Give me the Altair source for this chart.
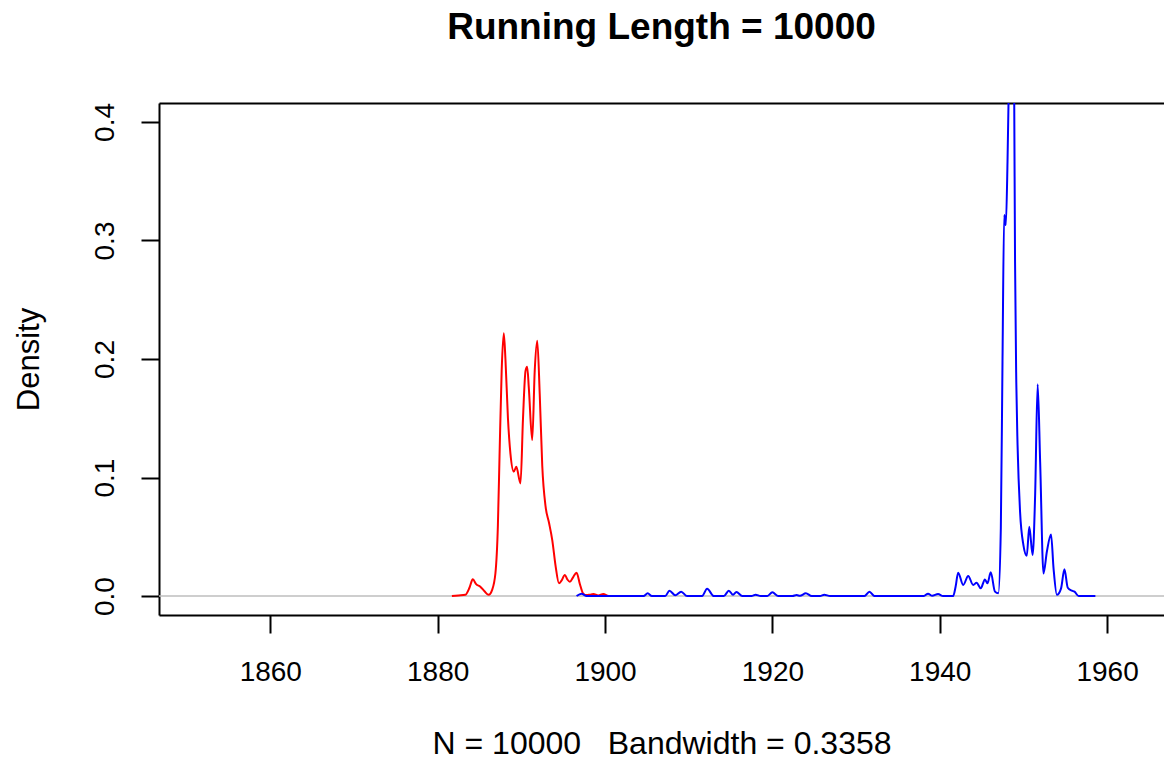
import altair as alt
import pandas as pd

# ---- data ----
red_x = [1881.7, 1882.5, 1883.3, 1883.8, 1884.2, 1884.6, 1885.1, 1885.6, 1886.1, 1886.5,
         1886.9, 1887.2, 1887.4, 1887.65, 1887.9, 1888.1, 1888.4, 1888.7, 1889.1, 1889.4,
         1889.9, 1890.2, 1890.5, 1890.7, 1890.9, 1891.3, 1891.6, 1891.9, 1892.2, 1892.5,
         1892.9, 1893.3, 1893.7, 1894.1, 1894.5, 1894.8, 1895.2, 1895.5, 1895.8, 1896.2,
         1896.6, 1897.0, 1897.4, 1897.8, 1898.2, 1898.6, 1899.2, 1899.8, 1900.3, 1900.6]
red_y = [0.0, 0.0005, 0.001, 0.007, 0.0141, 0.010, 0.0079, 0.004, 0.001, 0.005,
         0.019, 0.06, 0.120, 0.19, 0.2217, 0.20, 0.15, 0.120, 0.105, 0.109,
         0.095, 0.15, 0.19, 0.1935, 0.175, 0.1316, 0.19, 0.2154, 0.17, 0.11,
         0.0754, 0.062, 0.047, 0.025, 0.0107, 0.013, 0.0177, 0.014, 0.012, 0.016,
         0.0197, 0.010, 0.002, 0.0008, 0.0012, 0.0017, 0.0005, 0.0017, 0.0003, 0.0]

blue_x = [1896.6, 1897.2, 1897.8, 1904.6, 1905.1, 1905.6, 1907.2, 1907.7, 1908.4, 1909.1,
          1909.8, 1911.6, 1912.2, 1913.0, 1914.2, 1914.8, 1915.3, 1915.7, 1916.4, 1917.5,
          1918.0, 1918.6, 1919.4, 1920.0, 1920.7, 1922.4, 1922.9, 1923.3, 1924.0, 1924.7,
          1925.7, 1926.2, 1926.9, 1931.0, 1931.6, 1932.2, 1938.1, 1938.6, 1939.1, 1939.8,
          1940.4, 1941.6, 1941.9, 1942.2, 1942.8, 1943.4, 1944.0, 1944.4, 1944.9, 1945.4,
          1945.7, 1946.1, 1946.6, 1947.0, 1947.3, 1947.5, 1947.7, 1947.8, 1947.9, 1948.1,
          1948.3, 1948.45, 1948.6, 1948.75, 1948.9, 1949.0, 1949.15, 1949.3, 1949.6, 1950.0,
          1950.4, 1950.7, 1951.1, 1951.4, 1951.7, 1952.0, 1952.4, 1952.8, 1953.3, 1953.6,
          1954.0, 1954.5, 1954.9, 1955.3, 1955.8, 1956.1, 1956.6, 1958.6]
blue_y = [0.0, 0.002, 0.0, 0.0, 0.0023, 0.0, 0.0, 0.0045, 0.0006, 0.0037,
          0.0, 0.0, 0.0062, 0.0, 0.0, 0.0045, 0.001, 0.0034, 0.0, 0.0,
          0.0011, 0.0, 0.0, 0.0031, 0.0, 0.0, 0.0008, 0.0002, 0.0023, 0.0,
          0.0, 0.0011, 0.0, 0.0, 0.0037, 0.0, 0.0, 0.002, 0.0002, 0.0017,
          0.0, 0.0, 0.008, 0.0197, 0.0093, 0.0169, 0.0093, 0.0112, 0.0065, 0.014,
          0.0107, 0.020, 0.0037, 0.0023, 0.057, 0.198, 0.3215, 0.318, 0.313, 0.3665,
          0.45, 0.55, 0.60, 0.55, 0.42, 0.282, 0.18, 0.1274, 0.071, 0.043,
          0.034, 0.0585, 0.0346, 0.085, 0.1787, 0.113, 0.019, 0.0374, 0.052, 0.0234,
          0.001, 0.0065, 0.0225, 0.007, 0.0045, 0.0037, 0.0, 0.0]

x_ticks = [1860, 1880, 1900, 1920, 1940, 1960]
y_ticks = [0.0, 0.1, 0.2, 0.3, 0.4]
x_domain = [1846.7, 1966.8]
y_domain = [-0.016, 0.416]

title_text = "Running Length = 10000"
x_label = "N = 10000\u00a0\u00a0\u00a0Bandwidth = 0.3358"
y_label = "Density"

red = pd.DataFrame({"x": red_x, "y": red_y})
blue = pd.DataFrame({"x": blue_x, "y": blue_y})
zero = pd.DataFrame({"y": [0.0]})

FONT = "Liberation Sans"
W, H = 1005, 512

xs = alt.Scale(domain=x_domain, nice=False, zero=False)
ys = alt.Scale(domain=y_domain, nice=False, zero=False)

x_axis = alt.Axis(orient="bottom", values=x_ticks, format="d", title=x_label, grid=False,
                  domain=True, domainColor="black", domainWidth=2,
                  ticks=True, tickColor="black", tickWidth=2, tickSize=18,
                  labelFont=FONT, labelFontSize=28, labelColor="black",
                  labelPadding=25, labelBaseline="top", labelFlush=False,
                  labelOverlap=False,
                  titleFont=FONT, titleFontSize=32, titleFontWeight="normal",
                  titleColor="black", titleX=W / 2, titleY=138,
                  titleAlign="center", titleBaseline="alphabetic")

y_axis = alt.Axis(orient="left", values=y_ticks, format=".1f", title=y_label, grid=False,
                  domain=True, domainColor="black", domainWidth=2,
                  ticks=True, tickColor="black", tickWidth=2, tickSize=18,
                  labelFont=FONT, labelFontSize=28, labelColor="black",
                  labelAngle=270, labelAlign="center", labelBaseline="alphabetic",
                  labelPadding=28, labelFlush=False, labelOverlap=False,
                  titleFont=FONT, titleFontSize=31, titleFontWeight="normal",
                  titleColor="black", titleAngle=270, titleX=-121, titleY=H / 2,
                  titleAlign="center", titleBaseline="alphabetic")

top_axis = alt.Axis(orient="top", labels=False, ticks=False, grid=False,
                    domain=True, domainColor="black", domainWidth=2, title=None)

zero_line = alt.Chart(zero).mark_rule(color="#BEBEBE", strokeWidth=1.5).encode(
    y=alt.Y("y:Q", scale=ys, axis=y_axis)
)

red_line = alt.Chart(red).mark_line(color="#FF0000", strokeWidth=2, clip=True,
                                    interpolate="monotone").encode(
    x=alt.X("x:Q", scale=xs, axis=x_axis),
    y=alt.Y("y:Q", scale=ys, axis=y_axis),
)

blue_line = alt.Chart(blue).mark_line(color="#0000FF", strokeWidth=2, clip=True,
                                      interpolate="monotone").encode(
    x=alt.X("x:Q", scale=xs, axis=None),
    y=alt.Y("y:Q", scale=ys, axis=y_axis),
)

top_frame = alt.Chart(red).mark_line(opacity=0).encode(
    x=alt.X("x:Q", scale=xs, axis=top_axis),
    y=alt.Y("y:Q", scale=ys, axis=y_axis),
)

chart = alt.layer(zero_line, red_line, blue_line, top_frame).resolve_axis(
    x="independent"
).properties(
    width=W,
    height=H,
    title=alt.TitleParams(text=title_text, font=FONT, fontSize=37,
                          fontWeight="bold", color="black", anchor="middle",
                          baseline="alphabetic", offset=27),
    autosize=alt.AutoSizeParams(type="none"),
    padding={"left": 159, "top": 103, "right": 0, "bottom": 156},
).configure_view(stroke=None).configure(background="white")

chart.save("out.html", embed_options={"renderer": "svg", "actions": False})
